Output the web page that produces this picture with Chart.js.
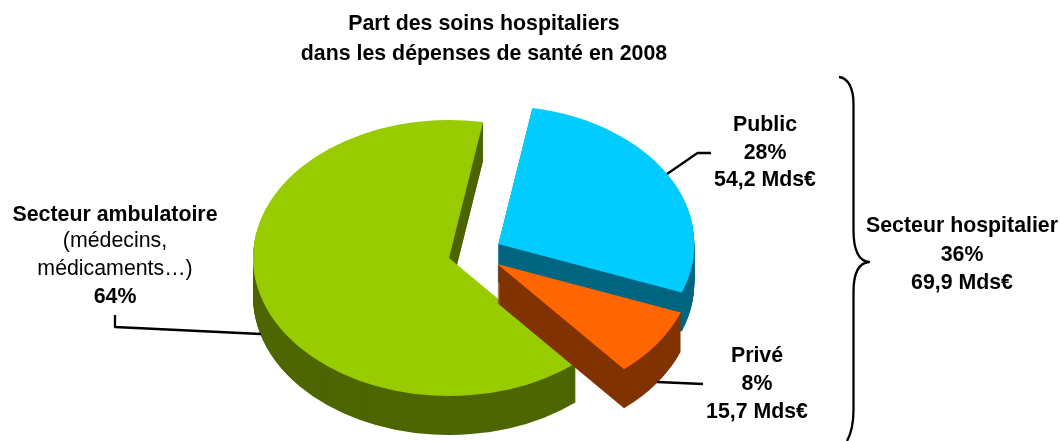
<!DOCTYPE html>
<html lang="fr">
<head>
<meta charset="utf-8">
<style>html,body{margin:0;padding:0;background:#fff}#w{position:relative;width:1060px;height:441px}</style>
<script src="https://cdn.jsdelivr.net/npm/chart.js@4"></script>
</head>
<body>
<div id="w"><canvas id="c" width="1060" height="441"></canvas></div>
<script>
const categories = ['Public', 'Privé', 'Secteur ambulatoire'];
const amounts = [54.2, 15.7, 124.1];
const topColours = ['#00ccff', '#ff6600', '#99cc00'];
const sideColours = ['#006680', '#803300', '#4d6600'];
const titleLines = ['Part des soins hospitaliers', 'dans les dépenses de santé en 2008'];

const FONT = '"Liberation Sans", Arial, sans-serif';
const SQUASH = 0.704, DEPTH = 39;
const centres = [[498.3, 244], [497.3, 264], [449, 258]];
const paintOrder = [2, 0, 1];

const texts = [
  {x: 484, lines: [[titleLines[0], 24, 1], [titleLines[1], 54, 1]]},
  {x: 765, lines: [['Public', 125, 1], ['28%', 153, 1], ['54,2 Mds€', 180, 1]]},
  {x: 757, lines: [['Privé', 356, 1], ['8%', 384, 1], ['15,7 Mds€', 412, 1]]},
  {x: 962, lines: [['Secteur hospitalier', 226, 1], ['36%', 255, 1], ['69,9 Mds€', 283, 1]]},
  {x: 115, lines: [['Secteur ambulatoire', 215, 1], ['(médecins,', 241, 0], ['médicaments…)', 269, 0], ['64%', 297, 1]]}
];

const pie3d = {
  id: 'pie3d',
  beforeDatasetsDraw(chart) {
    const ctx = chart.ctx, arcs = chart.getDatasetMeta(0).data;
    paintOrder.forEach(i => {
      const arc = arcs[i], base = arc.options;
      const paint = (dy, colour) => {
        arc.options = Object.assign({}, base, {backgroundColor: colour, borderWidth: 0});
        ctx.save();
        ctx.translate(centres[i][0], centres[i][1] + dy);
        ctx.scale(1, SQUASH);
        ctx.translate(-arc.x, -arc.y);
        arc.draw(ctx);
        ctx.restore();
      };
      for (let d = DEPTH; d > 0; d--) paint(d, sideColours[i]);
      paint(0, topColours[i]);
      arc.options = base;
    });
    return false;
  },
  afterDraw(chart) {
    const ctx = chart.ctx;
    ctx.save();
    ctx.strokeStyle = '#000'; ctx.lineWidth = 2.3; ctx.lineJoin = 'round';
    const line = pts => { ctx.beginPath(); pts.forEach((p, k) => k ? ctx.lineTo(p[0], p[1]) : ctx.moveTo(p[0], p[1])); ctx.stroke(); };
    line([[667, 174], [697.5, 153], [711, 153]]);
    line([[657, 382], [703, 384]]);
    line([[115, 315], [115, 327], [261, 334]]);
    ctx.beginPath();
    ctx.moveTo(839, 77);
    ctx.bezierCurveTo(848, 78, 853.5, 88, 853.5, 104);
    ctx.lineTo(853.5, 230);
    ctx.bezierCurveTo(853.5, 248, 858, 261, 869, 262);
    ctx.bezierCurveTo(858, 263, 853.5, 275, 853.5, 292);
    ctx.lineTo(853.5, 410);
    ctx.bezierCurveTo(853.5, 423, 852, 432, 847, 441);
    ctx.stroke();
    ctx.fillStyle = '#000'; ctx.textAlign = 'center'; ctx.textBaseline = 'middle';
    texts.forEach(t => t.lines.forEach(([s, y, bold]) => {
      ctx.font = (bold ? 'bold ' : '') + '21.33px ' + FONT;
      ctx.fillText(s, t.x, y);
    }));
    ctx.restore();
  }
};

new Chart(document.getElementById('c'), {
  type: 'pie',
  data: {labels: categories, datasets: [{data: amounts, backgroundColor: topColours, borderWidth: 0}]},
  options: {
    responsive: false, animation: false, rotation: 10, events: [],
    layout: {padding: {left: 253, right: 415, top: 24, bottom: 25}},
    plugins: {legend: {display: false}, tooltip: {enabled: false}, title: {display: false}}
  },
  plugins: [pie3d]
});
</script>
</body>
</html>
